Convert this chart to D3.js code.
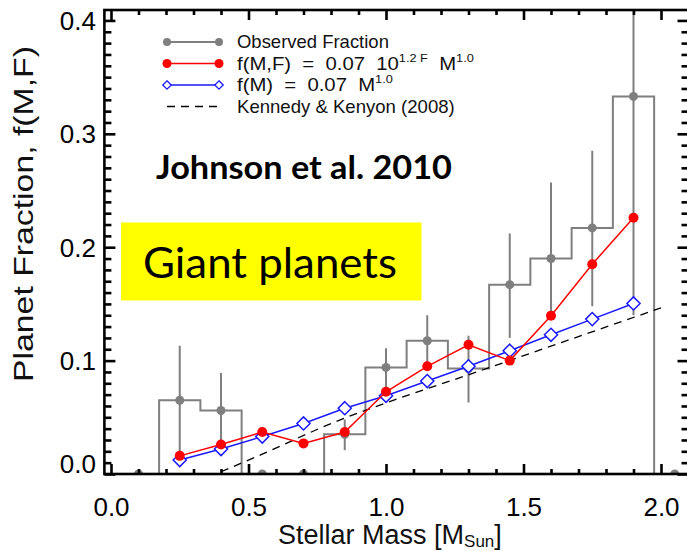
<!DOCTYPE html>
<html>
<head>
<meta charset="utf-8">
<script src="https://cdn.jsdelivr.net/npm/d3@7"></script>
<style>
  html, body { margin: 0; padding: 0; background: #fff; }
  svg { display: block; }
</style>
</head>
<body>
<svg id="chart" width="687" height="551"></svg>
<script>
// Stellar-mass bin centres (solar masses) for the observed sample
const massBins = [0.10, 0.25, 0.40, 0.55, 0.70, 0.85, 1.00, 1.15, 1.30, 1.45, 1.60, 1.75, 1.90, 2.05];
// Observed giant-planet fraction per bin and its error-bar bounds
const observed     = [0, 0.065, 0.056, 0, 0, 0.035, 0.094, 0.1175, 0.093, 0.167, 0.190, 0.217, 0.333, 0];
const observedLow  = [null, 0.020, 0.026, null, null, 0.021, 0.076, 0.096, 0.063, 0.120, 0.141, 0.148, 0.140, null];
const observedHigh = [null, 0.113, 0.089, null, null, 0.048, 0.111, 0.140, 0.122, 0.212, 0.257, 0.285, 0.530, null];

// Model predictions at the same masses
const modelMass    = [0.25, 0.40, 0.55, 0.70, 0.85, 1.00, 1.15, 1.30, 1.45, 1.60, 1.75, 1.90];
const fitMassMetal = [0.016, 0.026, 0.037, 0.027, 0.037, 0.0725, 0.095, 0.114, 0.100, 0.1395, 0.185, 0.226];
const fitMass      = [0.0123, 0.022, 0.033, 0.0446, 0.058, 0.069, 0.082, 0.095, 0.1087, 0.1228, 0.1366, 0.1504];

// Kennedy & Kenyon (2008) prediction
const kkMass = [0.40, 0.55, 0.80, 1.05, 1.30, 1.65, 2.00];
const kkFrac = [0.002, 0.0175, 0.0445, 0.067, 0.0875, 0.117, 0.1465];

// Axis ticks
const xTicks = [0.0, 0.5, 1.0, 1.5, 2.0];
const yTicks = [0.0, 0.1, 0.2, 0.3, 0.4];
const xMinorTicks = [0.1, 0.2, 0.3, 0.4, 0.6, 0.7, 0.8, 0.9, 1.1, 1.2, 1.3, 1.4, 1.6, 1.7, 1.8, 1.9, 2.1];
const yMinorStep = 0.01;

const svg = d3.select('#chart');

const x = d3.scaleLinear().domain([-0.024, 2.1]).range([104.4, 688.5]);
const y = d3.scaleLinear().domain([0, 0.4092]).range([474, 10]);
const [L, R] = x.range();
const [B, T] = y.range();

const GREY = '#7f7f7f', RED = '#ff0000', BLUE = '#1a1aff';
const SANS = '"Liberation Sans", Arial, sans-serif';

svg.append('defs').append('clipPath').attr('id', 'plotClip')
  .append('rect').attr('x', L).attr('y', T).attr('width', R - L).attr('height', B - T);

// Annotation boxes sit underneath the data
svg.append('rect')
  .attr('x', 121).attr('y', 222.5).attr('width', 300.5).attr('height', 78)
  .attr('fill', '#ffff00');
svg.append('text')
  .attr('x', 143).attr('y', 278)
  .attr('font-family', 'Lato, "Open Sans", sans-serif')
  .attr('font-size', 42)
  .attr('textLength', 254).attr('lengthAdjust', 'spacingAndGlyphs')
  .attr('fill', '#000')
  .text('Giant planets');
svg.append('text')
  .attr('x', 156).attr('y', 178.5)
  .attr('font-family', 'Lato, "Open Sans", sans-serif')
  .attr('font-weight', 'bold')
  .attr('font-size', 32)
  .attr('textLength', 296).attr('lengthAdjust', 'spacingAndGlyphs')
  .attr('fill', '#000')
  .text('Johnson et al. 2010');

const plot = svg.append('g').attr('clip-path', 'url(#plotClip)');

// Observed fraction: stepped histogram, error bars, points
const obsRows = massBins.map((m, i) => ({ m, v: observed[i], lo: observedLow[i], hi: observedHigh[i] }));
plot.append('path')
  .datum(obsRows)
  .attr('fill', 'none').attr('stroke', GREY).attr('stroke-width', 2)
  .attr('d', d3.line().x(d => x(d.m)).y(d => y(d.v)).curve(d3.curveStep));
plot.selectAll('line.err')
  .data(obsRows.filter(d => d.lo !== null))
  .join('line').attr('class', 'err')
  .attr('x1', d => x(d.m)).attr('x2', d => x(d.m))
  .attr('y1', d => y(d.lo)).attr('y2', d => y(d.hi))
  .attr('stroke', GREY).attr('stroke-width', 2);
plot.selectAll('circle.obs')
  .data(obsRows)
  .join('circle').attr('class', 'obs')
  .attr('cx', d => x(d.m)).attr('cy', d => y(d.v)).attr('r', 4.5)
  .attr('fill', GREY);

// Kennedy & Kenyon curve
plot.append('path')
  .datum(kkMass.map((m, i) => [m, kkFrac[i]]))
  .attr('fill', 'none').attr('stroke', '#000').attr('stroke-width', 1.3)
  .attr('stroke-dasharray', '8,6')
  .attr('d', d3.line().x(d => x(d[0])).y(d => y(d[1])).curve(d3.curveMonotoneX));

// f(M) = 0.07 M^1.0
const diamond = d3.symbol().type(d3.symbolDiamond2).size(110);
plot.append('path')
  .datum(modelMass.map((m, i) => [m, fitMass[i]]))
  .attr('fill', 'none').attr('stroke', BLUE).attr('stroke-width', 1.5)
  .attr('d', d3.line().x(d => x(d[0])).y(d => y(d[1])));
plot.selectAll('path.dia')
  .data(modelMass.map((m, i) => [m, fitMass[i]]))
  .join('path').attr('class', 'dia')
  .attr('transform', d => `translate(${x(d[0])},${y(d[1])})`)
  .attr('d', diamond)
  .attr('fill', '#fff').attr('stroke', BLUE).attr('stroke-width', 1.5);

// f(M,F) = 0.07 10^(1.2F) M^1.0
plot.append('path')
  .datum(modelMass.map((m, i) => [m, fitMassMetal[i]]))
  .attr('fill', 'none').attr('stroke', RED).attr('stroke-width', 1.5)
  .attr('d', d3.line().x(d => x(d[0])).y(d => y(d[1])));
plot.selectAll('circle.red')
  .data(modelMass.map((m, i) => [m, fitMassMetal[i]]))
  .join('circle').attr('class', 'red')
  .attr('cx', d => x(d[0])).attr('cy', d => y(d[1])).attr('r', 5)
  .attr('fill', RED);

// Axes: thick frame with inward ticks on all four sides
const axisStroke = 2.6;
function styleAxis(g) {
  g.select('.domain').remove();
  g.selectAll('.tick line').attr('stroke', '#000').attr('stroke-width', axisStroke);
  g.selectAll('text').attr('fill', '#000');
}
const yMinorTicks = d3.range(0, 0.409, yMinorStep).filter(v => Math.abs(v * 10 - Math.round(v * 10)) > 1e-6);

svg.append('g').attr('transform', `translate(0,${B})`)
  .call(d3.axisBottom(x).tickValues(xMinorTicks).tickSize(-5).tickFormat(''))
  .call(styleAxis);
svg.append('g').attr('transform', `translate(0,${B})`)
  .call(d3.axisBottom(x).tickValues(xTicks).tickSize(-10).tickPadding(24).tickFormat(d3.format('.1f')))
  .call(styleAxis)
  .call(g => g.selectAll('text').attr('font-family', SANS).attr('font-size', 26));

svg.append('g').attr('transform', `translate(0,${T})`)
  .call(d3.axisTop(x).tickValues(xMinorTicks).tickSize(-5).tickFormat(''))
  .call(styleAxis);
svg.append('g').attr('transform', `translate(0,${T})`)
  .call(d3.axisTop(x).tickValues(xTicks).tickSize(-10).tickFormat(''))
  .call(styleAxis);

svg.append('g').attr('transform', `translate(${L},0)`)
  .call(d3.axisLeft(y).tickValues(yMinorTicks).tickSize(-7).tickFormat(''))
  .call(styleAxis);
svg.append('g').attr('transform', `translate(${L},0)`)
  .call(d3.axisLeft(y).tickValues(yTicks).tickSize(-11).tickPadding(8.5).tickFormat(d3.format('.1f')))
  .call(styleAxis)
  .call(g => g.selectAll('text')
    .attr('font-family', SANS).attr('font-size', 26)
    .attr('dy', d => d === 0 ? '-0.05em' : '0.34em'));

svg.append('g').attr('transform', `translate(${R},0)`)
  .call(d3.axisRight(y).tickValues(yMinorTicks).tickSize(-7).tickFormat(''))
  .call(styleAxis);
svg.append('g').attr('transform', `translate(${R},0)`)
  .call(d3.axisRight(y).tickValues(yTicks).tickSize(-11).tickFormat(''))
  .call(styleAxis);

svg.append('rect')
  .attr('x', L).attr('y', T).attr('width', R - L).attr('height', B - T)
  .attr('fill', 'none').attr('stroke', '#000').attr('stroke-width', axisStroke);

// Axis titles
const xTitle = svg.append('text')
  .attr('x', 278).attr('y', 544)
  .attr('font-family', SANS).attr('font-size', 27).attr('fill', '#111');
xTitle.append('tspan').text('Stellar Mass [M');
xTitle.append('tspan').attr('font-size', 17).attr('dy', 3).text('Sun');
xTitle.append('tspan').attr('dy', -3).text(']');

svg.append('text')
  .attr('transform', 'translate(33,214) rotate(-90)')
  .attr('text-anchor', 'middle')
  .attr('font-family', SANS).attr('font-size', 28).attr('fill', '#111')
  .attr('textLength', 336).attr('lengthAdjust', 'spacingAndGlyphs')
  .text('Planet Fraction, f(M,F)');

// Legend
const legend = svg.append('g');
const legX0 = 167, legX1 = 219, legTextX = 237;
const rowsY = [42, 63.5, 85, 106.5];

function legendText(yc, width, build) {
  const t = legend.append('text')
    .attr('x', 0).attr('y', 0)
    .attr('font-family', SANS).attr('font-size', 17.5).attr('fill', '#111')
    .attr('xml:space', 'preserve');
  build(t);
  const natural = t.node().getComputedTextLength();
  t.attr('transform', `translate(${legTextX},${yc + 6}) scale(${width / natural},1)`);
}

// row 1: observed
legend.append('line').attr('x1', legX0).attr('x2', legX1).attr('y1', rowsY[0]).attr('y2', rowsY[0])
  .attr('stroke', GREY).attr('stroke-width', 2);
legend.selectAll('circle.lg').data([legX0, legX1]).join('circle').attr('class', 'lg')
  .attr('cx', d => d).attr('cy', rowsY[0]).attr('r', 4).attr('fill', GREY);
legendText(rowsY[0], 152, t => t.text('Observed Fraction'));

// row 2: metallicity + mass model
legend.append('line').attr('x1', legX0).attr('x2', legX1).attr('y1', rowsY[1]).attr('y2', rowsY[1])
  .attr('stroke', RED).attr('stroke-width', 1.5);
legend.selectAll('circle.lr').data([legX0, legX1]).join('circle').attr('class', 'lr')
  .attr('cx', d => d).attr('cy', rowsY[1]).attr('r', 4.5).attr('fill', RED);
legendText(rowsY[1], 237, t => {
  t.append('tspan').text('f(M,F)  =  0.07  10');
  t.append('tspan').attr('font-size', 11).attr('dy', -8).text('1.2 F');
  t.append('tspan').attr('dy', 8).text('  M');
  t.append('tspan').attr('font-size', 11).attr('dy', -8).text('1.0');
});

// row 3: mass-only model
legend.append('line').attr('x1', legX0).attr('x2', legX1).attr('y1', rowsY[2]).attr('y2', rowsY[2])
  .attr('stroke', BLUE).attr('stroke-width', 1.5);
legend.selectAll('path.lb').data([legX0, legX1]).join('path').attr('class', 'lb')
  .attr('transform', d => `translate(${d},${rowsY[2]})`)
  .attr('d', d3.symbol().type(d3.symbolDiamond2).size(45))
  .attr('fill', '#fff').attr('stroke', BLUE).attr('stroke-width', 1.3);
legendText(rowsY[2], 156, t => {
  t.append('tspan').text('f(M)  =  0.07  M');
  t.append('tspan').attr('font-size', 11).attr('dy', -8).text('1.0');
});

// row 4: Kennedy & Kenyon
legend.append('line').attr('x1', legX0).attr('x2', legX1 - 2).attr('y1', rowsY[3]).attr('y2', rowsY[3])
  .attr('stroke', '#000').attr('stroke-width', 1.3).attr('stroke-dasharray', '8,6');
legendText(rowsY[3], 218, t => t.text('Kennedy & Kenyon (2008)'));
</script>
</body>
</html>
